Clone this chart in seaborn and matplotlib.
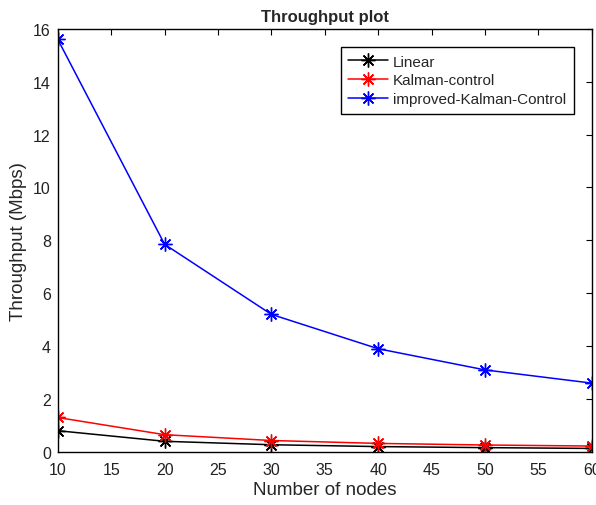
import matplotlib
matplotlib.use("Agg")
import matplotlib.pyplot as plt
import pandas as pd
import seaborn as sns

nodes = [10, 20, 30, 40, 50, 60]
linear = [0.80, 0.40, 0.27, 0.20, 0.16, 0.13]
kalman = [1.30, 0.65, 0.43, 0.32, 0.26, 0.22]
improved = [15.6, 7.85, 5.2, 3.9, 3.1, 2.6]

series_names = ["Linear", "Kalman-control", "improved-Kalman-Control"]
colors = ["black", "red", "blue"]

df = pd.DataFrame({
    "nodes": nodes * 3,
    "throughput": linear + kalman + improved,
    "series": [series_names[0]] * 6 + [series_names[1]] * 6 + [series_names[2]] * 6,
})

sns.set_style("white")
plt.rcParams["font.family"] = ["Liberation Sans", "DejaVu Sans"]

star = (8, 2, 0)  # matlab-style asterisk (+ and x)

fig = plt.figure(figsize=(5.96, 5.06), dpi=100)
ax = fig.add_axes([0.097, 0.105, 0.896, 0.836])

sns.lineplot(data=df, x="nodes", y="throughput", hue="series",
             palette=dict(zip(series_names, colors)), marker=star,
             markersize=10, linewidth=1.1, ax=ax)

# asterisk markers drawn in the line colour (seaborn uses white edges)
for ln in ax.lines:
    ln.set_markeredgecolor(ln.get_color())
    ln.set_markeredgewidth(1)

ax.set_xlim(10, 60)
ax.set_ylim(0, 16)
ax.set_xticks(range(10, 61, 5))
ax.set_yticks(range(0, 17, 2))
ax.tick_params(direction="in", top=True, right=True, length=4, labelsize=11.5,
               color="black", labelcolor="#222222")
ax.tick_params(axis="x", pad=7)
ax.tick_params(axis="y", pad=5)
for s in ax.spines.values():
    s.set_color("black")
    s.set_linewidth(1)

ax.set_xlabel("Number of nodes", fontsize=13.5, labelpad=3)
ax.set_ylabel("Throughput (Mbps)", fontsize=13.5, labelpad=4)
ax.set_title("Throughput plot", fontsize=12, fontweight="bold")

leg = ax.legend(loc="upper right", bbox_to_anchor=(0.98, 0.975), fontsize=11,
                fancybox=False, edgecolor="black", framealpha=1,
                handlelength=2.6, borderpad=0.5, labelspacing=0.3,
                handletextpad=0.3)
leg.get_frame().set_linewidth(1)
for h in leg.legend_handles:
    h.set_marker(star)
    h.set_markersize(10)
    h.set_markeredgecolor(h.get_color())
    h.set_markeredgewidth(1)

fig.savefig("out.png", dpi=100)
